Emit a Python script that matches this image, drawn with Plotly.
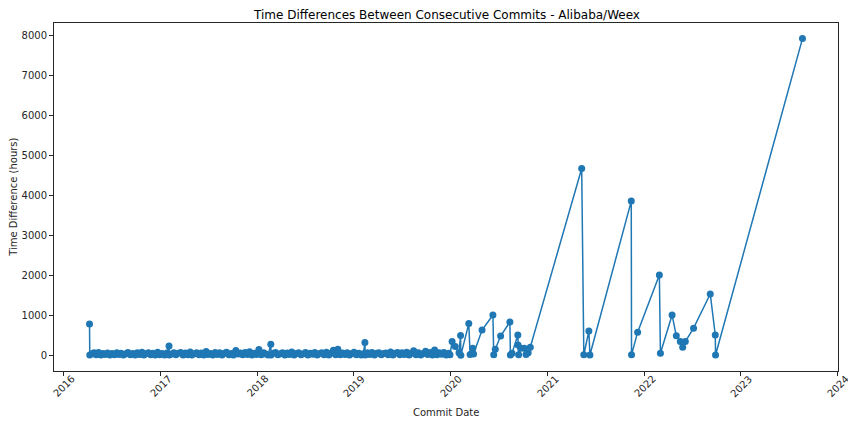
import pandas as pd
import plotly.graph_objects as go

# ==========================================
# DATA
# ==========================================
# busy period 2016-2019: commit dates and hours since the previous commit
dense_dates = [
    "2016-04-09", "2016-04-10", "2016-04-18", "2016-04-26", "2016-05-04", "2016-05-13", "2016-05-22", "2016-05-30",
    "2016-06-07", "2016-06-16", "2016-06-25", "2016-07-03", "2016-07-12", "2016-07-21", "2016-07-29", "2016-08-06",
    "2016-08-15", "2016-08-24", "2016-09-01", "2016-09-10", "2016-09-19", "2016-09-28", "2016-10-06", "2016-10-15",
    "2016-10-24", "2016-10-31", "2016-11-08", "2016-11-17", "2016-11-26", "2016-12-04", "2016-12-13", "2016-12-22",
    "2016-12-30",
    "2017-01-08", "2017-01-17", "2017-01-26", "2017-02-03", "2017-02-04", "2017-02-12", "2017-02-21", "2017-03-01",
    "2017-03-10", "2017-03-19", "2017-03-28", "2017-04-06", "2017-04-15", "2017-04-24", "2017-04-30", "2017-05-09",
    "2017-05-18", "2017-05-27", "2017-06-05", "2017-06-14", "2017-06-23", "2017-06-30", "2017-07-09", "2017-07-18",
    "2017-07-27", "2017-08-04", "2017-08-13", "2017-08-22", "2017-08-31", "2017-09-08", "2017-09-17", "2017-09-26",
    "2017-10-04", "2017-10-13", "2017-10-22", "2017-10-31", "2017-11-08", "2017-11-17", "2017-11-26", "2017-12-04",
    "2017-12-13", "2017-12-22", "2017-12-30",
    "2018-01-08", "2018-01-17", "2018-01-26", "2018-02-03", "2018-02-12", "2018-02-22", "2018-02-23", "2018-03-03",
    "2018-03-12", "2018-03-21", "2018-03-30", "2018-04-07", "2018-04-16", "2018-04-25", "2018-05-03", "2018-05-12",
    "2018-05-21", "2018-05-30", "2018-06-07", "2018-06-16", "2018-06-25", "2018-07-03", "2018-07-12", "2018-07-21",
    "2018-07-30", "2018-08-07", "2018-08-16", "2018-08-25", "2018-09-02", "2018-09-11", "2018-09-20", "2018-09-29",
    "2018-10-07", "2018-10-16", "2018-10-25", "2018-11-02", "2018-11-11", "2018-11-20", "2018-11-29", "2018-12-07",
    "2018-12-16", "2018-12-25",
    "2019-01-02", "2019-01-11", "2019-01-20", "2019-01-29", "2019-02-06", "2019-02-12", "2019-02-13", "2019-02-22",
    "2019-03-02", "2019-03-11", "2019-03-20", "2019-03-29", "2019-04-06", "2019-04-15", "2019-04-24", "2019-05-02",
    "2019-05-11", "2019-05-20", "2019-05-29", "2019-06-06", "2019-06-15", "2019-06-24", "2019-07-02", "2019-07-11",
    "2019-07-20", "2019-07-29", "2019-08-06", "2019-08-15", "2019-08-24", "2019-09-02", "2019-09-11", "2019-09-20",
    "2019-09-29", "2019-10-07", "2019-10-16", "2019-10-25", "2019-11-02", "2019-11-11", "2019-11-20", "2019-11-29",
    "2019-12-07", "2019-12-16", "2019-12-25", "2019-12-30",
]
dense_hours = [
    780, 2, 35, 60, 12, 70, 5, 45,
    20, 55, 3, 40, 8, 62, 15, 50,
    2, 38, 66, 10, 44, 4, 58, 18,
    72, 6, 36, 60, 9, 48, 3, 75,
    12,
    40, 6, 55, 232, 2, 30, 64, 8,
    46, 70, 5, 52, 14, 80, 3, 38,
    62, 10, 56, 4, 90, 18, 42, 7,
    66, 20, 58, 3, 48, 74, 12, 40,
    6, 120, 30, 55, 8, 68, 15, 84,
    5, 50, 20,
    140, 10, 60, 28, 4, 274, 3, 46,
    70, 9, 38, 62, 6, 52, 18, 78,
    4, 44, 60, 12, 35, 70, 5, 48,
    22, 66, 3, 40, 58, 14, 72, 6,
    50, 125, 10, 150, 8, 56, 20, 64,
    4, 42,
    74, 10, 50, 6, 36, 315, 2, 60,
    15, 70, 5, 48, 62, 8, 40, 55,
    12, 82, 3, 46, 66, 9, 58, 20,
    74, 4, 50, 110, 12, 64, 5, 44,
    100, 18, 70, 6, 130, 10, 58, 26,
    66, 4, 48, 8,
]

# sparse period 2020-2023
late_dates = [
    "2020-01-07", "2020-01-19", "2020-02-02", "2020-02-08", "2020-02-09", "2020-03-10", "2020-03-15", "2020-03-25",
    "2020-03-28", "2020-04-29", "2020-06-09", "2020-06-12", "2020-06-18", "2020-07-08", "2020-08-12", "2020-08-14",
    "2020-08-20", "2020-09-11", "2020-09-12", "2020-09-14", "2020-09-22", "2020-10-05", "2020-10-12", "2020-10-20",
    "2020-10-28",
    "2021-05-10", "2021-05-18", "2021-06-06", "2021-06-10", "2021-11-13", "2021-11-14", "2021-12-07",
    "2022-02-27", "2022-03-03", "2022-04-16", "2022-05-02", "2022-05-17", "2022-05-26", "2022-06-05", "2022-07-06",
    "2022-09-07", "2022-09-26", "2022-09-27", "2023-08-21",
]
late_hours = [
    340, 215, 60, 490, 0, 790, 20, 175,
    30, 630, 1005, 10, 150, 480, 830, 5,
    50, 505, 255, 10, 175, 175, 20, 60,
    200,
    4665, 10, 605, 5, 3850, 8, 575,
    2005, 50, 1005, 485, 340, 200, 340, 675,
    1530, 505, 5, 7910,
]

year_ticks = ["2016", "2017", "2018", "2019", "2020", "2021", "2022", "2023", "2024"]
y_ticks = [0, 1000, 2000, 3000, 4000, 5000, 6000, 7000, 8000]

TITLE = "Time Differences Between Consecutive Commits - Alibaba/Weex"
LINE_COLOR = "#1f77b4"
FONT = "DejaVu Sans"
# the page body keeps its default 8px margin, so the figure is drawn 8px
# smaller than the 856x424 window and the margins are set to suit
FIG_W, FIG_H = 848, 416


def build_figure():
    """Line chart with markers, styled like a default matplotlib figure."""
    df = pd.DataFrame({
        "date": pd.to_datetime(dense_dates + late_dates),
        "hours": dense_hours + late_hours,
    })

    fig = go.Figure(go.Scatter(
        x=df["date"],
        y=df["hours"],
        mode="lines+markers",
        line=dict(color=LINE_COLOR, width=1.5),
        marker=dict(color=LINE_COLOR, size=7),
        showlegend=False,
    ))

    axis_style = dict(
        showline=True, mirror=True, linecolor="#262626", linewidth=1,
        ticks="outside", ticklen=4, tickcolor="#262626", tickwidth=1,
        showgrid=False, zeroline=False,
    )
    fig.update_xaxes(
        type="date",
        range=["2015-11-27", "2024-01-02"],
        tickvals=[f"{y}-01-01" for y in year_ticks],
        showticklabels=False,
        **axis_style,
    )
    fig.update_yaxes(
        range=[-395, 8300],
        tickvals=y_ticks,
        tickfont=dict(family=FONT, size=10, color="#262626"),
        **axis_style,
    )

    # rotated year labels centred under each tick, like matplotlib rotation=45
    for y in year_ticks:
        fig.add_annotation(
            x=f"{y}-01-01", y=0, xref="x", yref="paper",
            text=y, textangle=-45, showarrow=False, yshift=-15,
            xanchor="center", yanchor="middle",
            font=dict(family=FONT, size=10, color="#262626"),
        )

    # title as an annotation so it sits just above the axes box without clipping
    fig.add_annotation(
        x=0.5, y=1, xref="paper", yref="paper", text=TITLE,
        showarrow=False, xanchor="center", yanchor="middle", yshift=8,
        font=dict(family=FONT, size=12, color="black"),
    )
    fig.add_annotation(
        x=0.5, y=-0.118, xref="paper", yref="paper", text="Commit Date",
        showarrow=False, xanchor="center", yanchor="middle",
        font=dict(family=FONT, size=10, color="#262626"),
    )
    fig.add_annotation(
        x=-0.0525, y=0.5, xref="paper", yref="paper", text="Time Difference (hours)",
        textangle=-90, showarrow=False, xanchor="center", yanchor="middle",
        font=dict(family=FONT, size=10, color="#262626"),
    )

    fig.update_layout(
        width=FIG_W, height=FIG_H,
        margin=dict(l=46, r=18, t=15, b=53),
        paper_bgcolor="white", plot_bgcolor="white",
    )
    return fig


def main():
    fig = build_figure()
    fig.write_html("out.html")


if __name__ == "__main__":
    main()
